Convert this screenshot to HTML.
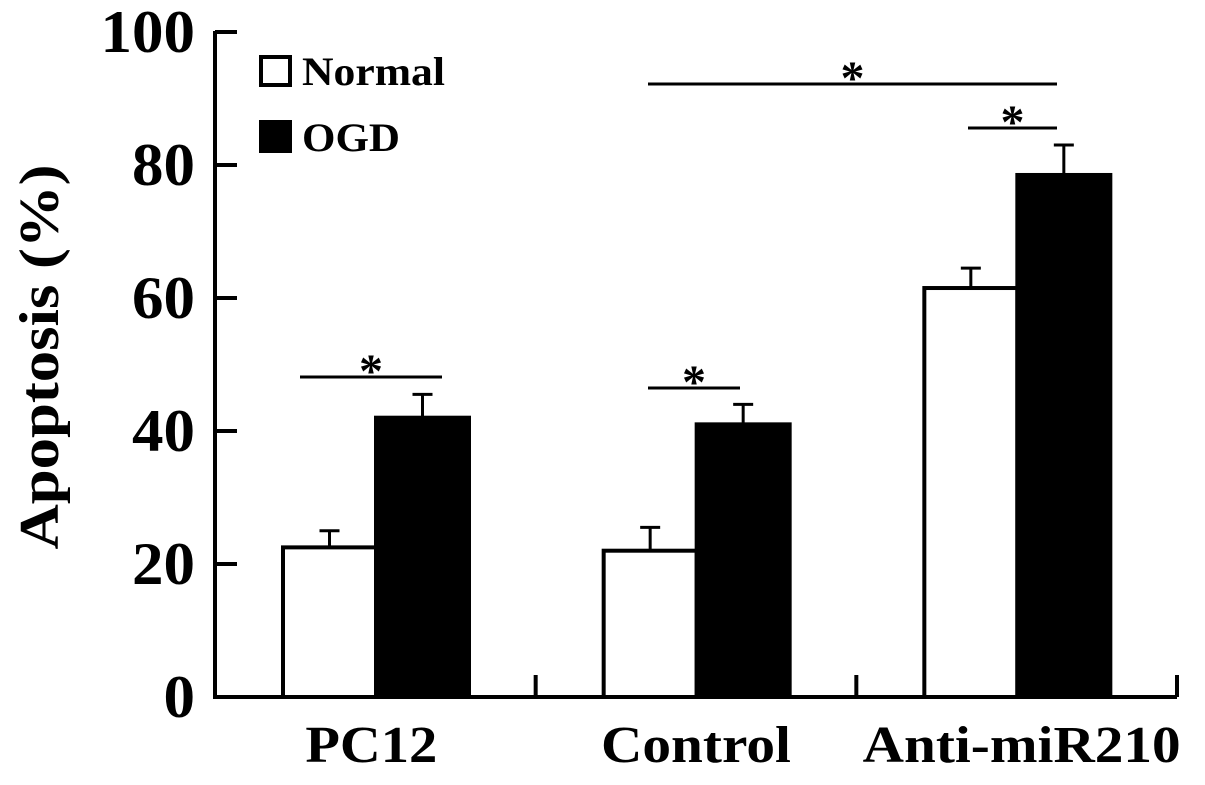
<!DOCTYPE html>
<html><head><meta charset="utf-8"><style>
body{margin:0;background:#fff}
svg text{font-family:"Liberation Serif",serif;font-weight:bold;fill:#000}
</style></head><body>
<svg id="chart" width="1205" height="780" viewBox="0 0 1205 780" xmlns="http://www.w3.org/2000/svg">
<g id="axes"></g>
<g id="bars"></g>
<g id="sig"></g>
<text transform="translate(58,357) rotate(-90)" text-anchor="middle" font-size="56" textLength="385" lengthAdjust="spacingAndGlyphs">Apoptosis (%)</text>
<g>
<rect x="261" y="57" width="29" height="28" fill="#fff" stroke="#000" stroke-width="4"/>
<text x="302" y="85" font-size="40" textLength="143" lengthAdjust="spacingAndGlyphs">Normal</text>
<rect x="259" y="120" width="33" height="33" fill="#000"/>
<text x="302" y="151" font-size="40" textLength="98" lengthAdjust="spacingAndGlyphs">OGD</text>
</g>
</svg>
<script>
const categories=["PC12","Control","Anti-miR210"];
const normalValues=[22.5,22,61.5];
const normalErrors=[2.5,3.5,3];
const ogdValues=[42,41,78.5];
const ogdErrors=[3.5,3,4.5];
const yTicks=[0,20,40,60,80,100];
const NS="http://www.w3.org/2000/svg";
const x0=215,x1=1177,y0=697,yTop=32;
const y=v=>y0-(v/100)*(y0-yTop);
const groupW=(x1-x0)/categories.length;
const gx=i=>x0+i*groupW;
function mk(parent,tag,attrs){const e=document.createElementNS(NS,tag);for(const k in attrs)e.setAttribute(k,attrs[k]);document.getElementById(parent).appendChild(e);return e;}
let e;
e=mk("axes","line",{x1:x0,y1:yTop-1,x2:x0,y2:y0+2,stroke:"#000","stroke-width":4});


e=mk("axes","line",{x1:x0-2,y1:y0,x2:x1,y2:y0,stroke:"#000","stroke-width":4});


yTicks.forEach(t=>{
 e=mk("axes","line",{x1:x0,y1:y(t),x2:x0+22,y2:y(t),stroke:"#000","stroke-width":4});
 
 
 const s=String(t);
 e=mk("axes","text",{x:195,y:y(t)+20,"text-anchor":"end","font-size":60,textLength:s.length*31.5,lengthAdjust:"spacingAndGlyphs"});
 e.textContent=s;
 
 
});
const labelWidths=[132,190,318];
categories.forEach((c,i)=>{
 const xe=gx(i+1);
 e=mk("axes","line",{x1:xe,y1:y0,x2:xe,y2:y0-22,stroke:"#000","stroke-width":4});
 
 
 const cx=gx(i)+groupW*0.5+(i==0?-4:i==1?0:5);
 e=mk("axes","text",{x:cx,y:762,"text-anchor":"middle","font-size":52,textLength:labelWidths[i],lengthAdjust:"spacingAndGlyphs"});
 e.textContent=c;
 
 
});
const bw=93;
categories.forEach((c,i)=>{
 const bx=gx(i)+68;
 [[normalValues,normalErrors,"#fff","normal"],[ogdValues,ogdErrors,"#000","ogd"]].forEach(([vals,errs,fill,nm],k)=>{
  const xl=bx+k*bw;
  e=mk("bars","line",{x1:xl+bw/2,y1:y(vals[i]),x2:xl+bw/2,y2:y(vals[i]+errs[i]),stroke:"#000","stroke-width":3});
  
  
  e=mk("bars","line",{x1:xl+bw/2-10,y1:y(vals[i]+errs[i]),x2:xl+bw/2+10,y2:y(vals[i]+errs[i]),stroke:"#000","stroke-width":3});
  
  
  e=mk("bars","rect",{x:xl,y:y(vals[i]),width:bw,height:y0-y(vals[i]),fill:fill,stroke:"#000","stroke-width":4});
  
  
 });
});
const sigLines=[[300,442,377],[648,740,388],[968,1057,128],[648,1057,84]];
sigLines.forEach(([a,b,yy])=>{
 e=mk("sig","line",{x1:a,y1:yy,x2:b,y2:yy,stroke:"#000","stroke-width":3});
 
 
 e=mk("sig","text",{x:(a+b)/2,y:yy+10,"text-anchor":"middle","font-size":48});
 e.textContent="*";
 
 
});
</script>
</body></html>
